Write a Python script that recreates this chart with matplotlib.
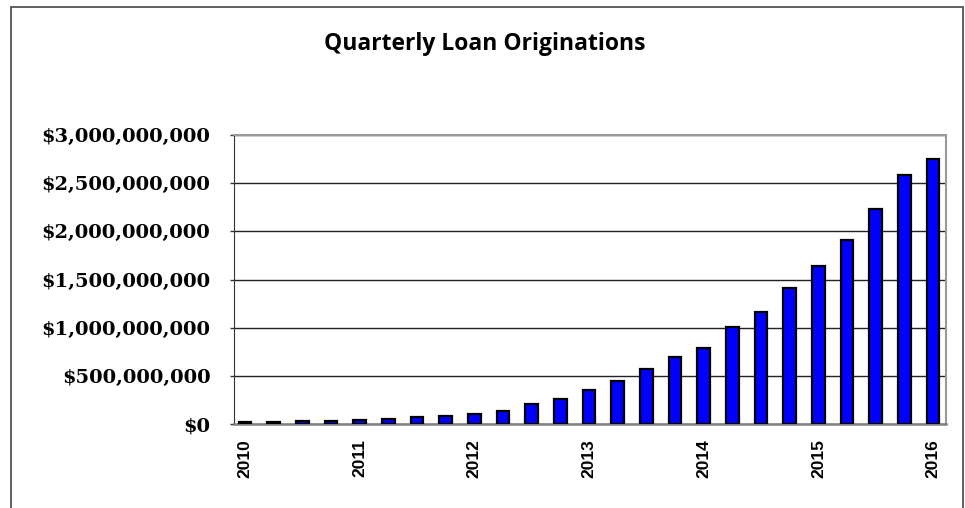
import matplotlib
matplotlib.use("Agg")
import matplotlib.pyplot as plt
from matplotlib.patches import Rectangle
from matplotlib.ticker import FuncFormatter

# quarterly originations, Q1 2010 .. Q1 2016 (dollars)
quarters = list(range(25))
originations = [
    0.020e9, 0.025e9, 0.032e9, 0.036e9, 0.043e9, 0.055e9, 0.068e9, 0.085e9,
    0.107e9, 0.138e9, 0.205e9, 0.262e9, 0.350e9, 0.445e9, 0.567e9, 0.700e9,
    0.793e9, 1.005e9, 1.167e9, 1.415e9, 1.638e9, 1.914e9, 2.236e9, 2.582e9,
    2.748e9,
]
year_ticks = [0, 4, 8, 12, 16, 20, 24]
year_labels = ["2010", "2011", "2012", "2013", "2014", "2015", "2016"]
y_ticks = [0, 5e8, 1e9, 1.5e9, 2e9, 2.5e9, 3e9]

fig = plt.figure(figsize=(9.65, 5.08), dpi=100)
ax = fig.add_axes([234 / 965, 1 - 424 / 508, 712 / 965, 289 / 508])

# outer chart-area border (bottom edge falls outside the image)
fig.patches.append(Rectangle((11 / 965, -0.1), 952 / 965, 1.1 - 7 / 508,
                             transform=fig.transFigure, fill=False,
                             edgecolor="#555555", linewidth=1.3))

ax.bar(quarters, originations, width=0.44, color="#0000FF",
       edgecolor="black", linewidth=1.6, zorder=3)

ax.set_ylim(0, 3e9)
ax.set_xlim(-0.38, 24.45)
ax.set_yticks(y_ticks)
ax.yaxis.set_major_formatter(FuncFormatter(lambda v, p: "${:,.0f}".format(v)))
ax.grid(axis="y", color="#222222", linewidth=1.0, zorder=0)

ax.set_xticks(year_ticks)
ax.set_xticklabels(year_labels, rotation=90)
for lbl in ax.get_xticklabels():
    lbl.set_family("Liberation Sans")
    lbl.set_fontweight("bold")
    lbl.set_fontsize(12.5)
ax.tick_params(axis="x", length=0, pad=11)
ax.tick_params(axis="y", length=3, width=1, color="#333333", pad=14)
for lbl in ax.get_yticklabels():
    lbl.set_family("DejaVu Serif")
    lbl.set_fontweight("bold")
    lbl.set_fontsize(14)

ax.spines["left"].set_color("#333333")
ax.spines["bottom"].set_color("#808080")
ax.spines["bottom"].set_linewidth(1.8)
ax.spines["top"].set_color("#999999")
ax.spines["top"].set_linewidth(1.5)
ax.spines["right"].set_color("#999999")
ax.spines["right"].set_linewidth(1.5)

fig.text(485 / 965, 1 - 44 / 508, "Quarterly Loan Originations", ha="center",
         va="center", fontsize=16.5, fontweight="bold", family="Open Sans")

fig.savefig("out.png", dpi=100)
